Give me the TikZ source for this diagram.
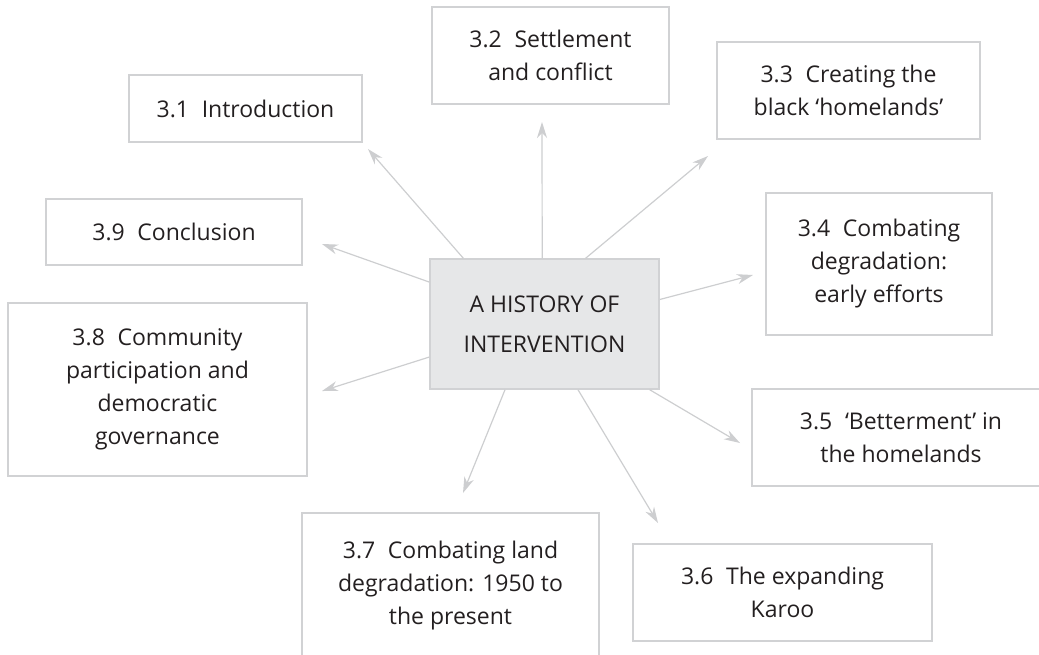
\documentclass[tikz,border=0pt]{standalone}
\usepackage{fontspec}
\setmainfont{Open Sans}
\usetikzlibrary{arrows.meta}
\definecolor{boxline}{HTML}{D1D2D4}
\definecolor{hubfill}{HTML}{E6E7E8}
\definecolor{arrowgray}{HTML}{CDCED0}
\definecolor{inktext}{HTML}{231F20}
\newcommand{\numgap}{\hspace{0.55em}}

\begin{document}
\begin{tikzpicture}[x=1pt, y=-1pt,
  topic/.style = {draw=boxline, line width=1.3pt, align=center, inner sep=0, text=inktext, font=\fontsize{23}{33}\selectfont},
  centre/.style = {topic, fill=hubfill, font=\fontsize{23}{40}\selectfont},
  link/.style = {draw=arrowgray, line width=1.2pt, -{Stealth[length=16pt, width=10pt, inset=5pt]}}]

\useasboundingbox (0,0) rectangle (1039,654);

\node[centre, minimum width=229pt, minimum height=130pt] (hub) at (544.5,324) {A HISTORY OF\\INTERVENTION};

\node[topic, minimum width=233pt, minimum height=67pt] (s31) at (245.5,108.5) {3.1\numgap Introduction};
\node[topic, minimum width=237pt, minimum height=97pt] (s32) at (550.5,55.5) {3.2\numgap Settlement\\and conflict};
\node[topic, minimum width=263pt, minimum height=97pt] (s33) at (848.5,90.5) {3.3\numgap Creating the\\black ‘homelands’};
\node[topic, minimum width=226pt, minimum height=142pt] (s34) at (879,264) {3.4\numgap Combating\\degradation:\\early efforts};
\node[topic, minimum width=298pt, minimum height=97pt] (s35) at (901,437.5) {3.5\numgap ‘Betterment’ in\\the homelands};
\node[topic, minimum width=299pt, minimum height=97pt] (s36) at (782.5,592.5) {3.6\numgap The expanding\\Karoo};
\node[topic, minimum width=297pt, minimum height=146pt] (s37) at (450.5,586) {3.7\numgap Combating land\\degradation: 1950 to\\the present};
\node[topic, minimum width=299pt, minimum height=173pt] (s38) at (157.5,389.5) {3.8\numgap Community\\participation and\\democratic\\governance};
\node[topic, minimum width=256pt, minimum height=66pt] (s39) at (174,232) {3.9\numgap Conclusion};

% arrow tips stop short of the boxes
\coordinate (t31) at (368,149);
\coordinate (t32) at (542,122);
\coordinate (t33) at (708,156);
\coordinate (t34) at (753,275);
\coordinate (t35) at (740,443);
\coordinate (t36) at (658,523);
\coordinate (t37) at (463,493);
\coordinate (t38) at (322,391);
\coordinate (t39) at (322,244);

\draw [link] (hub.141.5) to (t31);
\draw [link] (hub.92.6) to (t32);
\draw [link] (hub.58.8) to (t33);
\draw [link] (hub.12.7) to (t34);
\draw [link] (hub.-32.5) to (t35);
\draw [link] (hub.-63.1) to (t36);
\draw [link] (hub.239.7) to (t37);
\draw [link] (hub.196) to (t38);
\draw [link] (hub.160.8) to (t39);

\end{tikzpicture}
\end{document}
